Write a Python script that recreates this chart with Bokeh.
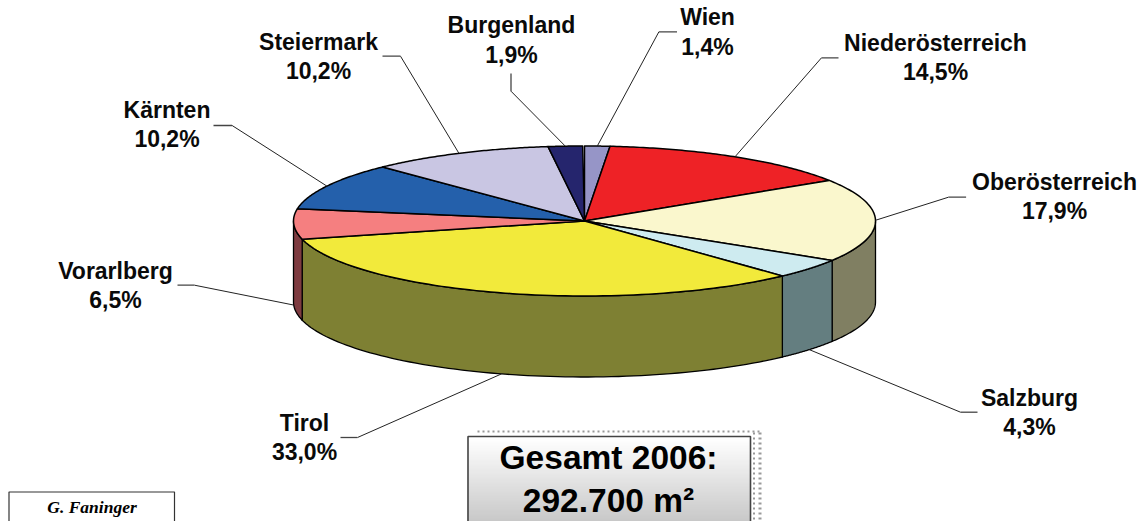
import numpy as np
from bokeh.plotting import figure
from bokeh.models import Range1d
from bokeh.core.properties import value
from bokeh.embed import file_html
from bokeh.resources import INLINE

# data (clockwise from 12 o'clock)
regions = ["Wien", "Niederösterreich", "Oberösterreich", "Salzburg", "Tirol",
           "Vorarlberg", "Kärnten", "Steiermark", "Burgenland"]
shares = [1.4, 14.5, 17.9, 4.3, 33.0, 6.5, 10.2, 10.2, 1.9]
top_colors = ["#9695C7", "#EE2226", "#FAF7CD", "#CEEBF0", "#F2EA3B",
              "#F57F80", "#2460AB", "#C9C6E3", "#25256D"]
side_colors = ["#4B4B64", "#771113", "#807F62", "#647E80", "#7E8033",
               "#7E3B40", "#123056", "#656372", "#131337"]
total_lines = ["Gesamt 2006:", "292.700 m²"]
credit = "G. Faninger"

# layout: image pixel space
CX, CY, RX, RY, DEPTH = 584.0, 220.5, 291.0, 75.0, 81.0
label_x = [707, 935, 1054, 1029, 304, 115, 166.5, 318, 511]
label_y1 = [16.5, 42.5, 181.5, 397.5, 422.5, 270.5, 109.5, 41, 24.5]
label_y2 = [46.5, 71.5, 210.5, 426.5, 451.5, 299.5, 138.5, 70.5, 54]
elbows = [
    [(676.5, 31.3), (658.4, 31.3)],
    [(838, 57.3), (821, 57.3)],
    [(965.6, 196.7), (948, 196.7)],
    [(977, 411.7), (960, 411.7)],
    [(340, 437), (357, 437)],
    [(177, 284.7), (194, 284.7)],
    [(213, 125), (231.6, 125)],
    [(382, 55.7), (400, 55.7)],
    [(510.5, 73), (510.5, 90.7)],
]

p = figure(width=1143, height=521, output_backend="svg", toolbar_location=None,
           x_range=Range1d(0, 1143), y_range=Range1d(521, 0), min_border=0,
           background_fill_color="white", border_fill_color="white")
p.axis.visible = False
p.grid.visible = False
p.outline_line_color = None


def ex(t):
    return CX + RX * np.sin(np.radians(t))


def ey(t):
    return CY - RY * np.cos(np.radians(t))


edges = np.concatenate([[0.0], np.cumsum(shares)]) * 3.6

# side faces
sx, sy, sc = [], [], []
for a, b, c in zip(edges[:-1], edges[1:], side_colors):
    lo, hi = max(a, 90.0), min(b, 270.0)
    if hi <= lo:
        continue
    t = np.linspace(lo, hi, 80)
    sx.append(np.concatenate([ex(t), ex(t[::-1])]))
    sy.append(np.concatenate([ey(t), ey(t[::-1]) + DEPTH]))
    sc.append(c)
p.patches(sx, sy, fill_color=sc, line_color="black", line_width=1.3, line_join="round")

# top faces
tx, ty = [], []
for a, b in zip(edges[:-1], edges[1:]):
    t = np.linspace(a, b, 80)
    tx.append(np.concatenate([[CX], ex(t)]))
    ty.append(np.concatenate([[CY], ey(t)]))
p.patches(tx, ty, fill_color=top_colors, line_color="black", line_width=1.5, line_join="round")

# leader lines
for a, b, el in zip(edges[:-1], edges[1:], elbows):
    mid = (a + b) / 2
    ax = ex(mid)
    ay = ey(mid) + (DEPTH if 90 < mid < 270 else 0)
    p.line([el[1][0], float(ax)], [el[1][1], float(ay)], line_color="#222222", line_width=1)
    p.line([el[0][0], el[1][0]], [el[0][1], el[1][1]], line_color="#444444", line_width=1.3)

# labels
pct = [f"{v:.1f}".replace(".", ",") + "%" for v in shares]
for txt, ys in ((regions, label_y1), (pct, label_y2)):
    p.text(label_x, ys, text=txt, text_font=value("Liberation Sans"), text_font_style="bold",
           text_font_size="23px", text_align="center", text_baseline="middle", text_color="#0a0a0a")

# total box: shadow dots
p.line([477, 762], [431, 431], line_color="#999999", line_width=2, line_dash="2 3")
p.line([753.5, 753.5], [432, 521], line_color="#999999", line_width=2, line_dash="2 3")
p.line([759.5, 759.5], [432, 521], line_color="#999999", line_width=3, line_dash="2 3")

# total box: gradient
rows = np.arange(436, 522)
shade = (255 - (rows - 438).clip(0) * (255 - 182) / 83).astype(int)
p.quad(left=467, right=750.5, top=rows, bottom=rows + 1,
       fill_color=[f"#{s:02x}{s:02x}{s:02x}" for s in shade], line_color=None)
p.line([467.5, 467.5, 750, 750], [522, 436, 436, 522], line_color="#444444", line_width=1.6)
p.text([608, 608], [456.5, 499.5], text=total_lines, text_font=value("Liberation Sans"),
       text_font_style="bold", text_font_size="33.5px", text_align="center",
       text_baseline="middle", text_color="black")

# credit box
p.line([8.5, 8.5, 174, 174], [522, 491.5, 491.5, 522], line_color="#333333", line_width=1.2)
p.text([91.5], [506], text=[credit], text_font=value("Liberation Serif"), text_font_style="bold italic",
       text_font_size="17.5px", text_align="center", text_baseline="middle", text_color="black")

open("out.html", "w").write(file_html(p, INLINE))
